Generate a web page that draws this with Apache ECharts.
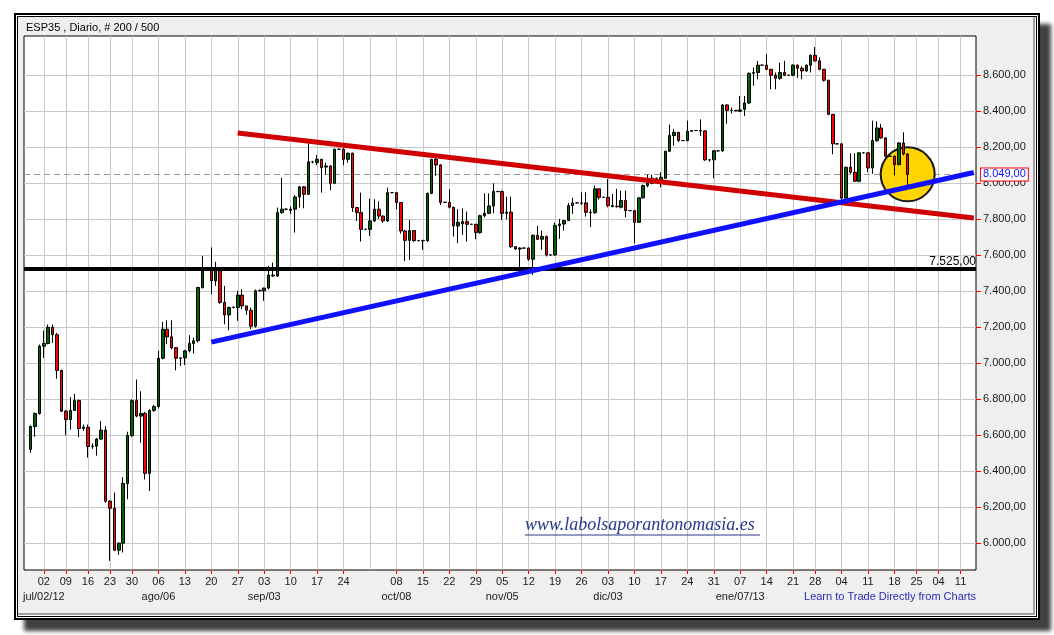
<!DOCTYPE html>
<html><head><meta charset="utf-8">
<script src="https://cdn.jsdelivr.net/npm/echarts@6/dist/echarts.min.js"></script>
<style>
html,body{margin:0;padding:0;background:#fff;width:1054px;height:635px;overflow:hidden;}
#shadow{position:absolute;left:24px;top:24px;width:1027px;height:607px;background:#404040;filter:blur(2px);}
#frame{position:absolute;left:14px;top:13px;width:1026px;height:607px;box-sizing:border-box;border:2px solid #000;background:#fff;}
#panel{position:absolute;left:1px;top:1px;right:1px;bottom:1px;border:1.5px solid #000;background:#efefef;box-shadow:inset -1px -1px 0 #fff, inset -3px -3px 0 #a0a0a0;}
#chart{position:absolute;left:0;top:0;width:1054px;height:635px;}
</style></head>
<body>
<div id="shadow"></div>
<div id="frame"><div id="panel"></div></div>
<div id="chart"></div>
<script>
// ---------- data ----------
// slots before the first labelled week: one empty slot, then 27-29 Jun
const leadSlots = ['', 'jun/27', 'jun/28', 'jun/29'];
// weekly tick labels (Monday of each week); the reference leaves 1 Oct unlabelled
const tickLabels = ['02','09','16','23','30','06','13','20','27','03','10','17','24','','08','15','22','29','05','12','19','26','03','10','17','24','31','07','14','21','28','04','11','18','25','04','11'];
// number of bar slots in each of those weeks (the feed has a Sunday bar from August)
const weekBars = [5,5,5,5,6,6,6,6,6,6,6,6,6,6,6,6,6,6,6,6,6,6,6,6,6,6,6,6,6,5,6,6,6,5,5,5,4];
// month labels (second row) and the week they sit under
const monthTexts = ['jul/02/12','ago/06','sep/03','oct/08','nov/05','dic/03','ene/07/13'];
const monthWeeks = [0, 5, 9, 14, 18, 22, 27];
// price axis ticks
const yTicks = [6000,6200,6400,6600,6800,7000,7200,7400,7600,7800,8000,8200,8400,8600];
// daily candles [open, high, low, close], first one in slot 1 (27 Jun 2012)
const candles = [
[6522,6655,6503,6649],[6649,6727,6592,6721],[6721,7104,6715,7095],[7095,7182,7030,7110],[7110,7215,7105,7200],
[7200,7215,7113,7159],[7159,7169,6914,6960],[6960,6965,6730,6734],[6734,6740,6601,6688],[6688,6812,6631,6738],
[6738,6830,6735,6793],[6793,6798,6590,6638],[6638,6660,6625,6645],[6645,6660,6476,6538],[6538,6555,6525,6540],
[6540,6585,6487,6579],[6579,6679,6575,6629],[6629,6650,6225,6234],[6234,6240,5903,6195],[6195,6282,5958,5962],
[5962,6005,5936,6001],[6001,6368,5949,6333],[6333,6620,6245,6599],[6599,6800,6590,6793],[6793,6910,6700,6707],
[6707,6845,6559,6722],[6722,6730,6355,6389],[6389,6745,6291,6738],[6738,6770,6730,6760],[6760,7069,6750,7028],
[7028,7230,7022,7189],[7189,7239,7106,7147],[7147,7239,7078,7087],[7087,7090,6961,7028],[7028,7032,6985,7030],
[7030,7075,6990,7069],[7069,7156,7060,7110],[7110,7143,7054,7125],[7125,7425,7115,7421],[7421,7597,7415,7523],
[7523,7530,7515,7525],[7527,7644,7384,7458],[7458,7564,7430,7527],[7527,7530,7330,7338],[7338,7430,7217,7269],
[7269,7315,7184,7310],[7310,7315,7305,7312],[7310,7403,7236,7379],[7379,7412,7300,7319],[7319,7320,7269,7295],
[7295,7310,7190,7206],[7206,7410,7198,7403],[7403,7410,7398,7405],[7403,7420,7347,7418],[7418,7542,7410,7490],
[7490,7559,7480,7485],[7485,7865,7480,7837],[7837,8031,7830,7856],[7856,7860,7850,7856],[7856,7870,7830,7850],
[7856,7935,7726,7924],[7924,7985,7865,7980],[7980,7985,7861,7939],[7939,8220,7935,8119],[8119,8125,8110,8119],
[8115,8157,8100,8133],[8133,8135,7948,8087],[8090,8115,8050,8096],[8096,8100,7961,8000],[8000,8192,7995,8189],
[8189,8192,8185,8189],[8189,8195,8100,8133],[8133,8170,8115,8167],[8167,8170,7841,7865],[7865,7870,7791,7837],
[7837,7948,7676,7744],[7744,7748,7740,7744],[7744,7915,7707,7791],[7791,7911,7785,7856],[7856,7900,7800,7818],
[7818,7820,7780,7791],[7791,7976,7785,7948],[7948,7950,7945,7948],[7948,7950,7856,7893],[7893,7895,7720,7735],
[7735,7740,7568,7683],[7683,7796,7574,7737],[7737,7740,7675,7681],[7681,7685,7678,7681],[7681,7685,7630,7683],
[7681,7948,7675,7944],[7944,8135,7940,8133],[8133,8148,8041,8102],[8102,8105,7880,7894],[7894,7898,7890,7894],
[7894,7967,7860,7867],[7867,7870,7704,7763],[7763,7856,7667,7783],[7775,7861,7713,7787],[7787,7843,7676,7772],
[7772,7775,7770,7772],[7772,7775,7689,7726],[7726,7825,7720,7820],[7820,7944,7810,7833],[7833,7944,7830,7874],
[7874,8000,7833,7954],[7954,7958,7950,7954],[7954,7960,7796,7833],[7833,7926,7800,7840],[7840,7926,7640,7648],
[7648,7650,7630,7635],[7635,7645,7519,7640],[7640,7642,7638,7640],[7640,7645,7570,7578],[7578,7715,7491,7711],
[7711,7763,7685,7689],[7689,7737,7630,7704],[7704,7710,7593,7602],[7602,7605,7598,7602],[7602,7781,7598,7765],
[7765,7802,7691,7774],[7774,7795,7737,7793],[7793,7891,7790,7876],[7876,7919,7830,7891],[7891,7893,7889,7891],
[7891,7950,7880,7889],[7891,7950,7815,7839],[7839,7855,7756,7837],[7837,7987,7830,7969],[7969,7972,7910,7922],
[7922,7925,7920,7922],[7922,8024,7867,7876],[7876,7941,7867,7870],[7870,7969,7865,7872],[7867,7959,7860,7904],
[7904,7959,7811,7848],[7848,7850,7846,7848],[7848,7850,7667,7783],[7783,7922,7780,7919],[7919,7993,7915,7987],
[7987,8048,7978,8000],[8000,8048,7995,8028],[8028,8030,8025,8028],[8019,8061,7978,8033],[8028,8180,8025,8178],
[8178,8326,8175,8265],[8265,8302,8209,8283],[8283,8285,8230,8237],[8237,8240,8235,8237],[8237,8348,8233,8289],
[8289,8295,8288,8293],[8293,8296,8290,8293],[8293,8355,8263,8290],[8291,8295,8125,8130],[8130,8135,8120,8130],
[8130,8185,8028,8180],[8180,8182,8178,8180],[8180,8440,8175,8435],[8435,8440,8331,8405],[8405,8420,8387,8405],
[8405,8407,8400,8402],[8400,8485,8395,8407],[8411,8485,8374,8446],[8446,8615,8440,8611],[8611,8643,8541,8615],
[8615,8680,8578,8656],[8656,8658,8654,8656],[8656,8717,8630,8633],[8633,8635,8522,8600],[8600,8615,8522,8583],
[8583,8670,8575,8615],[8615,8680,8595,8600],[8600,8602,8598,8600],[8600,8660,8595,8656],[8656,8660,8585,8639],
[8639,8650,8578,8624],[8624,8660,8620,8656],[8656,8715,8615,8711],[8711,8757,8675,8680],[8680,8700,8628,8633],
[8633,8635,8565,8572],[8572,8575,8378,8383],[8383,8385,8161,8219],[8219,8222,8216,8219],[8219,8222,7912,7918],
[7918,8092,7912,8089],[8089,8167,8050,8061],[8061,8167,8008,8011],[8011,8172,8005,8169],[8169,8172,8166,8169],
[8169,8172,8061,8085],[8085,8348,8052,8237],[8237,8344,8230,8307],[8307,8330,8248,8252],[8252,8255,8145,8150],
[8150,8153,8147,8150],[8150,8155,8043,8104],[8104,8228,8100,8224],[8224,8283,8155,8163],[8163,8167,7987,8049]
];
const lastPrice = 8049;
const supportLevel = 7525;
// trend lines: [slot, price] at each end
const redTrend = [[48, 8279], [215, 7807]];
const blueTrend = [[42, 7118], [215, 8060]];
// highlighted last bars: [slot, price]
const highlight = [200, 8050];

// ---------- build ----------
const categories = leadSlots.slice();
const mondayIdx = [];
weekBars.forEach((n, w) => {
  mondayIdx.push(categories.length);
  for (let k = 0; k < n; k++) categories.push('w' + w + '-' + k);
});
const tickTextAt = {};
mondayIdx.forEach((idx, w) => { tickTextAt[idx] = tickLabels[w]; });
const monthTextAt = {};
monthWeeks.forEach((w, i) => { monthTextAt[mondayIdx[w]] = monthTexts[i]; });

const candleData = [['-','-','-','-']].concat(candles.map(r => [r[0], r[3], r[2], r[1]]));

function fmt(v) {
  const s = Math.round(v).toString();
  return s.replace(/\B(?=(\d{3})+(?!\d))/g, '.') + ',00';
}
const FONT = '"Liberation Sans", Arial, sans-serif';

const chart = echarts.init(document.getElementById('chart'), null, {renderer: 'canvas'});
chart.setOption({
  animation: false,
  backgroundColor: 'transparent',
  textStyle: {fontFamily: FONT},
  grid: {left: 24, right: 78, top: 36, bottom: 65, show: true, backgroundColor: '#fff', borderColor: '#000', borderWidth: 1},
  xAxis: [{
    type: 'category', data: categories, boundaryGap: true,
    axisLine: {show: false},
    axisTick: {show: true, alignWithLabel: true, length: 4, lineStyle: {color: '#ff0000'},
      interval: (i) => tickTextAt[i] !== undefined && tickTextAt[i] !== ''},
    axisLabel: {interval: (i) => tickTextAt[i] !== undefined && tickTextAt[i] !== '',
      formatter: (v, i) => tickTextAt[i] || '', fontSize: 11, color: '#1a1a1a', margin: 6, fontFamily: FONT},
    splitLine: {show: false}
  }, {
    type: 'category', data: categories, boundaryGap: true, position: 'bottom', offset: 15,
    axisLine: {show: false}, axisTick: {show: false},
    axisLabel: {interval: (i) => monthTextAt[i] !== undefined, formatter: (v, i) => monthTextAt[i] || '',
      fontSize: 11, color: '#1a1a1a', margin: 6, fontFamily: FONT},
    splitLine: {show: false}
  }],
  yAxis: {
    type: 'value', position: 'right', min: 5852, max: 8818, scale: true,
    axisLine: {show: false}, splitLine: {show: false},
    axisTick: {show: true, customValues: yTicks, length: 5, lineStyle: {color: '#ff0000'}},
    axisLabel: {customValues: yTicks, formatter: fmt, fontSize: 11, color: '#1a1a1a', margin: 7, fontFamily: FONT}
  },
  graphic: [
    {type: 'text', left: 26, top: 22, z: 10, style: {text: 'ESP35 , Diario, # 200 / 500', fill: '#000', font: '11px ' + FONT}},
    {type: 'text', right: 78, top: 591, z: 10, style: {text: 'Learn to Trade Directly from Charts', fill: '#2a2ab8', font: '11px ' + FONT}},
    {type: 'text', left: 525, top: 516, z: 10, style: {text: 'www.labolsaporantonomasia.es', fill: '#24398a', font: 'italic 18px "Liberation Serif", "DejaVu Serif", serif'}},
    {type: 'line', z: 10, shape: {x1: 525, y1: 535, x2: 760, y2: 535}, style: {stroke: '#24398a', lineWidth: 1}}
  ],
  series: [
    { // grid lines + last-price line
      type: 'line', data: [], z: 1, silent: true,
      markLine: {
        z: 1, silent: true, symbol: 'none', animation: false,
        label: {show: false},
        lineStyle: {color: '#c8c8c8', width: 1, type: 'solid'},
        data: mondayIdx.map(i => ({xAxis: categories[i]}))
          .concat(yTicks.map(v => ({yAxis: v})))
          .concat([{yAxis: lastPrice, lineStyle: {color: '#9a9a9a', type: [6, 4], width: 1},
            label: {show: true, position: 'end', distance: 5, formatter: fmt(lastPrice), color: '#1010ff',
              fontSize: 11, fontFamily: FONT, backgroundColor: '#fff', borderColor: '#ff0000', borderWidth: 1,
              padding: [1, 2, 0, 2]}}])
      }
    },
    {
      type: 'scatter', z: 2, silent: true,
      data: [[categories[highlight[0]], highlight[1]]],
      symbol: 'circle', symbolSize: 54,
      itemStyle: {color: '#ffd400', borderColor: '#1a1a1a', borderWidth: 2, opacity: 1}
    },
    {
      type: 'candlestick', z: 3, data: candleData, barWidth: 3,
      itemStyle: {color: '#006400', color0: '#ff0000', borderColor: '#000', borderColor0: '#000', borderWidth: 1}
    },
    {
      type: 'line', z: 4, silent: true, symbol: 'none',
      data: redTrend.map(p => [categories[p[0]], p[1]]),
      lineStyle: {color: '#d00000', width: 5}
    },
    {
      type: 'line', z: 4, silent: true, symbol: 'none',
      data: blueTrend.map(p => [categories[p[0]], p[1]]),
      lineStyle: {color: '#1010ff', width: 5}
    },
    {
      type: 'line', data: [], z: 4, silent: true,
      markLine: {
        z: 4, silent: true, symbol: 'none', animation: false,
        lineStyle: {color: '#000', width: 4, type: 'solid'},
        label: {show: true, position: 'insideEndTop', distance: [0, 1], formatter: fmt(supportLevel), color: '#000', fontSize: 12, fontFamily: FONT},
        data: [{yAxis: supportLevel}]
      }
    }
  ]
});
</script>
</body></html>
